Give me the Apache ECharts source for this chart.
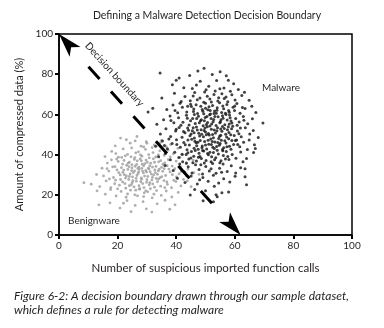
<!DOCTYPE html>
<html>
<head>
<meta charset="utf-8">
<script src="https://cdn.jsdelivr.net/npm/echarts@6/dist/echarts.min.js"></script>
<style>
  html, body { margin: 0; padding: 0; background: #fff; }
  #chart { width: 384px; height: 328px; }
</style>
</head>
<body>
<div id="chart"></div>
<script>
// Axis ticks
const xTicks = [0, 20, 40, 60, 80, 100];
const yTicks = [0, 20, 40, 60, 80, 100];

// Malware samples: [suspicious imported function calls, compressed data %]
const malware = [
  [49.5,83.0],[57.1,79.2],[47.4,81.6],[34.5,80.6],[41.0,78.1],[40.0,77.0],[52.3,79.8],[55.0,81.2],[44.6,79.4],
  [42.6,73.2],[48.2,76.5],[51.1,74.0],[53.8,76.9],[56.3,73.1],[59.6,75.2],[61.2,72.4],[45.5,72.9],[38.7,74.8],[50.2,72.3],[54.9,72.8],[57.8,77.0],[46.9,74.6],
  [35.1,68.2],[39.4,70.5],[43.0,68.9],[44.8,66.8],[46.3,70.9],[48.1,68.1],[49.7,71.2],[51.5,67.6],[52.9,69.9],[54.2,66.7],[55.6,70.3],[57.0,68.6],[58.5,71.5],[60.1,67.2],[62.4,69.4],[64.9,67.0],[47.2,67.3],[50.6,69.0],[53.3,71.6],[56.4,67.9],[41.7,66.4],[59.0,69.8],[45.8,69.2],[63.3,71.0],
  [30.4,61.2],[32.0,63.1],[36.8,62.4],[38.9,64.7],[40.5,60.8],[42.1,63.5],[43.6,61.2],[44.9,65.1],[46.0,62.7],[47.3,60.4],[48.4,64.0],[49.1,61.6],[50.0,65.5],[50.8,62.3],[51.7,60.2],[52.4,64.4],[53.1,61.7],[54.0,63.3],[54.8,65.8],[55.5,60.9],[56.2,62.8],[57.3,64.9],[58.1,61.1],[59.4,63.6],[60.7,65.4],[61.8,60.6],[63.5,62.9],[65.8,64.1],[67.2,61.0],[45.2,63.9],[48.9,62.5],[51.2,63.8],[53.7,60.6],[55.9,64.2],[57.9,62.0],[41.3,65.6],[62.6,63.4],[39.6,61.9],
  [33.4,55.1],[35.7,57.4],[37.9,59.2],[39.2,55.8],[40.8,58.3],[42.3,56.1],[43.5,59.6],[44.4,54.7],[45.6,57.9],[46.5,55.5],[47.6,59.1],[48.3,56.8],[49.2,54.4],[49.9,58.4],[50.7,56.0],[51.4,59.8],[52.1,55.2],[52.8,57.5],[53.6,54.5],[54.3,58.8],[55.1,56.3],[55.8,59.3],[56.6,54.9],[57.4,57.2],[58.2,59.7],[59.0,55.7],[60.3,58.0],[61.5,56.2],[62.9,59.0],[64.4,55.3],[66.0,57.8],[69.6,55.7],[44.9,56.9],[47.0,58.0],[49.6,56.9],[51.9,57.9],[53.2,59.0],[54.9,55.8],[57.0,59.9],[58.7,56.7],[41.6,54.6],[46.2,59.9],[50.3,55.0],[56.0,58.1],[60.8,54.6],
  [34.6,50.2],[36.5,52.8],[38.1,49.0],[39.8,51.7],[41.0,53.5],[42.0,48.6],[43.0,50.9],[43.9,53.2],[44.7,49.4],[45.5,51.9],[46.2,48.3],[46.9,53.7],[47.7,50.6],[48.5,52.4],[49.3,48.9],[50.0,51.3],[50.6,53.9],[51.3,49.7],[52.0,52.6],[52.7,48.4],[53.4,50.8],[54.1,53.3],[54.8,49.1],[55.6,51.6],[56.4,53.0],[57.2,48.7],[58.0,51.0],[58.9,52.9],[59.8,49.5],[60.9,51.8],[62.2,48.9],[63.6,53.4],[65.1,50.3],[66.3,52.0],[68.0,48.5],[45.1,50.3],[48.0,49.2],[51.0,50.5],[53.9,51.9],[56.9,50.1],[47.2,52.2],[49.8,53.2],[52.4,50.0],[55.2,52.7],[44.2,52.1],[57.8,53.8],[61.4,50.4],
  [33.0,44.2],[35.3,46.8],[37.0,42.9],[38.6,45.5],[40.1,47.4],[41.4,43.6],[42.6,46.0],[43.7,42.4],[44.5,44.8],[45.3,47.6],[46.1,43.1],[46.8,45.9],[47.5,42.6],[48.2,47.0],[48.9,44.3],[49.7,46.5],[50.4,42.8],[51.1,45.2],[51.8,47.8],[52.5,43.7],[53.2,46.3],[54.0,42.2],[54.7,44.6],[55.4,47.2],[56.2,43.4],[57.0,45.8],[57.9,47.9],[58.7,42.7],[59.6,45.0],[60.6,47.3],[61.7,43.9],[63.0,46.1],[64.3,42.5],[66.7,44.9],[46.4,46.7],[49.0,42.1],[52.0,45.0],[55.0,45.5],[50.9,47.1],[53.8,44.0],[47.0,44.4],[58.2,44.2],[43.1,44.9],
  [34.0,38.9],[36.3,40.6],[38.0,37.4],[39.5,41.2],[40.9,38.6],[42.2,36.5],[43.4,40.0],[44.3,37.8],[45.2,41.5],[46.0,39.2],[46.9,36.8],[47.8,40.7],[48.6,38.0],[49.4,41.8],[50.2,37.1],[51.0,39.9],[51.9,36.4],[52.7,41.0],[53.5,38.4],[54.4,40.3],[55.3,36.9],[56.1,39.5],[57.1,41.6],[58.0,37.6],[59.1,40.1],[60.4,38.2],[62.0,41.3],[64.0,38.1],[48.1,39.0],[50.7,40.5],[53.1,37.5],[55.9,41.9],[45.0,38.3],[57.6,39.0],
  [36.2,34.6],[39.0,32.1],[41.2,35.3],[42.8,31.4],[44.1,33.9],[45.4,30.8],[46.6,35.0],[47.8,32.6],[49.0,30.3],[50.1,34.1],[51.3,31.9],[52.4,35.6],[53.6,30.7],[54.8,33.2],[56.0,35.3],[57.4,31.6],[58.8,34.4],[60.3,30.9],[62.0,33.5],[48.4,34.9],[51.9,33.0],[55.5,31.2],[43.5,35.8],[63.5,33.0],
  [40.4,28.2],[43.0,26.1],[45.1,29.4],[47.2,25.4],[49.1,28.6],[50.9,26.7],[52.7,29.7],[54.5,25.9],[56.2,28.0],[58.3,26.4],[60.1,29.2],[53.0,24.3],[48.0,27.5],[63.5,29.0],[64.0,25.0],
  [46.3,22.6],[50.0,22.0],[53.6,20.0],[55.6,21.0],[57.9,21.4],[52.7,16.6],[49.2,17.1],[44.8,19.9],[54.0,19.0],
  [43.8,58.1],[45.9,61.4],[47.9,55.9],[49.4,60.3],[50.5,58.9],[51.6,61.9],[52.6,56.3],[53.9,62.1],[55.3,57.4],[56.8,60.6],[58.4,58.3],[59.9,61.9],
  [44.0,47.3],[45.8,53.3],[47.4,46.1],[48.7,50.1],[49.5,52.0],[50.3,49.9],[51.5,54.2],[52.3,46.5],[53.0,52.2],[54.5,48.0],[55.8,54.0],[56.6,46.9],[57.5,52.4],[58.6,49.9],[59.3,54.1],[60.2,47.0],[42.5,51.5],
  [44.0,40.9],[46.5,42.0],[48.8,43.4],[50.0,44.8],[51.5,41.2],[53.0,43.0],[54.2,46.0],[55.8,42.5],[57.3,43.9],[59.0,47.0],[61.0,45.0],[45.7,36.0],[47.6,38.7],[49.6,35.8],[52.1,38.9],[54.9,35.9],[56.8,37.8],
  [43.9,64.1],[46.8,64.8],[49.4,66.1],[52.0,66.2],[54.5,68.3],[57.6,66.3],[60.0,64.2],[38.2,57.0],[40.2,45.0],[37.5,47.8],[36.0,44.5],[61.9,53.2],[63.1,57.1],[64.9,47.3],[66.4,41.0],[62.8,36.5],[42.0,40.2],[40.0,52.6],[48.6,57.4],[55.2,49.6],[58.1,55.2],[46.1,50.9],[52.9,60.5],[50.0,63.0],[67.0,43.0]
];

// Benignware samples: [suspicious imported function calls, compressed data %]
const benignware = [
  [21.0,48.2],[26.6,49.0],[19.2,44.3],[24.3,45.7],[29.8,46.4],[32.5,44.8],[35.0,47.1],[28.0,44.2],[38.1,45.0],[23.0,47.4],
  [15.7,39.0],[18.0,41.6],[20.3,38.7],[21.9,42.8],[23.4,40.1],[24.8,43.3],[25.9,38.5],[27.1,41.4],[28.3,39.2],[29.5,42.6],[30.6,40.0],[31.8,43.5],[33.0,38.8],[34.4,41.9],[35.9,39.6],[37.2,42.2],[39.0,40.4],[41.3,38.6],[26.2,40.9],[22.6,39.4],[32.1,41.0],[19.4,40.5],[36.6,43.9],[28.9,43.8],
  [14.7,33.2],[16.5,35.8],[17.9,37.4],[19.1,34.0],[20.2,36.6],[21.3,33.5],[22.2,37.1],[23.1,34.7],[24.0,36.2],[24.9,33.4],[25.7,37.6],[26.5,35.1],[27.3,33.8],[28.1,36.9],[28.9,34.4],[29.7,37.3],[30.5,33.2],[31.3,35.7],[32.2,37.9],[33.1,34.1],[34.0,36.4],[35.0,33.6],[36.1,35.9],[37.3,37.5],[38.6,34.3],[40.0,36.8],[41.6,33.9],[43.4,35.4],[45.8,37.2],[23.6,35.8],[26.0,34.2],[29.3,35.5],[31.9,33.8],[34.7,37.0],[27.7,37.8],[21.7,35.3],[18.3,33.9],[36.9,34.5],
  [12.8,30.1],[15.2,29.4],[17.0,31.8],[18.6,28.6],[19.8,32.4],[20.9,29.9],[21.8,31.2],[22.7,28.3],[23.5,32.6],[24.3,30.4],[25.1,28.9],[25.8,31.9],[26.6,29.6],[27.4,32.8],[28.1,28.4],[28.8,30.9],[29.6,32.1],[30.3,29.1],[31.1,31.5],[31.9,28.7],[32.7,32.4],[33.6,30.2],[34.5,28.5],[35.4,31.7],[36.4,29.6],[37.5,32.8],[38.7,30.0],[40.1,28.9],[41.7,31.6],[43.5,29.4],[46.0,31.0],[47.8,30.2],[22.3,30.0],[24.8,32.0],[27.0,30.6],[29.2,29.3],[31.5,30.3],[33.9,31.9],[26.3,28.2],[30.7,32.9],[35.9,33.0],[20.4,31.0],[28.5,31.8],[24.0,29.1],[32.3,29.9],
  [11.0,25.3],[8.5,26.0],[13.9,24.1],[16.1,26.9],[17.7,23.6],[19.3,27.3],[20.6,24.8],[21.7,26.4],[22.8,23.3],[23.8,27.6],[24.7,25.0],[25.6,23.9],[26.4,26.8],[27.3,24.5],[28.2,27.7],[29.0,23.6],[29.9,26.2],[30.8,24.9],[31.7,27.4],[32.6,23.8],[33.6,26.5],[34.7,24.3],[35.8,27.1],[37.0,25.2],[38.4,23.5],[39.9,26.6],[41.6,24.4],[43.8,26.9],[45.1,24.0],[25.2,27.0],[28.6,25.6],[31.0,26.0],[22.5,25.6],[34.0,27.8],[27.6,23.0],[19.0,25.5],
  [13.0,22.0],[15.8,20.3],[17.6,22.6],[19.5,19.4],[21.2,21.7],[22.9,18.8],[24.4,22.3],[25.9,20.0],[27.4,22.8],[28.9,19.1],[30.3,21.5],[31.8,18.5],[33.3,22.1],[34.9,19.7],[36.6,21.9],[38.5,18.9],[40.7,21.2],[26.8,19.5],[29.6,22.0],[23.4,20.4],[32.4,20.3],[20.0,22.9],
  [13.6,15.0],[17.4,16.0],[20.8,13.4],[23.2,17.1],[26.0,14.7],[28.7,16.6],[31.7,11.4],[33.5,15.5],[36.2,17.3],[39.6,15.0],[29.8,13.0],[24.6,11.6],[37.8,12.8],[22.0,15.8],
  [22.1,32.3],[23.9,34.0],[25.4,31.0],[26.9,33.1],[28.4,35.2],[29.9,31.3],[31.0,34.4],[32.6,36.2],[34.2,32.7],[35.5,35.2],[24.6,38.9],[27.8,39.9],[30.8,38.4],[33.9,39.9],
  [21.0,27.6],[23.0,29.4],[25.0,26.1],[27.9,26.5],[30.0,27.5],[32.0,25.4],[33.2,28.1],[35.1,29.0],[36.8,26.4],[26.2,22.3],[29.1,21.0],[31.2,23.0],[24.0,24.5],[37.9,31.4],[39.5,33.0],[42.5,27.6],
  [19.7,37.8],[17.2,27.9],[16.4,33.0],[38.0,38.9],[44.0,32.8],[42.2,39.9],[40.6,43.1],[30.0,45.6],[34.6,46.0],[26.0,46.8],[36.1,23.6],[28.3,33.1],[26.7,36.9],[24.9,35.0],[30.1,36.2],[32.9,31.0],[27.2,31.5],[21.4,38.6],[39.2,27.2],[41.0,30.4]
];

// Decision boundary endpoints (x, y) in data units
const boundaryStart = [0, 100];
const boundaryEnd = [62, 0];

const FONT = 'Lato, "Open Sans", sans-serif';
const INK = '#231f20';

// Dash pattern for the boundary: a clear run after the start arrowhead,
// six evenly spaced dashes, then clear again up to the end arrowhead.
const boundaryDash = [0, 44, 16.5, 17, 16.5, 17, 16.5, 17, 16.5, 17, 16.5, 17, 16.5, 120];

const chart = echarts.init(document.getElementById('chart'), null, { renderer: 'canvas' });

const axisCommon = {
  type: 'value',
  min: 0,
  max: 100,
  interval: 20,
  splitLine: { show: false },
  axisLine: { show: true, lineStyle: { color: '#000', width: 1.5 } },
  axisTick: { show: true, inside: false, length: 4, lineStyle: { color: '#000', width: 2 } },
  axisLabel: { color: INK, fontSize: 10, fontFamily: FONT },
  nameLocation: 'middle',
  nameTextStyle: { color: INK, fontSize: 11.5, fontFamily: FONT }
};

chart.setOption({
  animation: false,
  backgroundColor: '#fff',
  grid: {
    left: 59, right: 32, top: 34, bottom: 93,
    show: true, borderColor: '#000', borderWidth: 1.5, backgroundColor: 'transparent'
  },
  xAxis: Object.assign({}, axisCommon, {
    name: 'Number of suspicious imported function calls',
    nameGap: 27,
    axisLabel: Object.assign({}, axisCommon.axisLabel, { margin: 6, customValues: xTicks })
  }),
  yAxis: Object.assign({}, axisCommon, {
    name: 'Amount of compressed data (%)',
    nameGap: 34,
    nameTextStyle: { color: INK, fontSize: 11, fontFamily: FONT },
    axisLabel: Object.assign({}, axisCommon.axisLabel, { margin: 6, customValues: yTicks })
  }),
  series: [
    {
      name: 'Benignware',
      type: 'scatter',
      data: benignware,
      symbol: 'circle',
      symbolSize: 2.8,
      itemStyle: { color: '#9a9a9a' },
      silent: true
    },
    {
      name: 'Malware',
      type: 'scatter',
      data: malware,
      symbol: 'circle',
      symbolSize: 3,
      itemStyle: { color: '#111' },
      silent: true
    },
    {
      name: 'Decision boundary',
      type: 'scatter',
      data: [],
      silent: true,
      markLine: {
        silent: true,
        animation: false,
        symbol: ['arrow', 'arrow'],
        symbolSize: [11, 24],
        lineStyle: { color: '#000', width: 3, type: boundaryDash, cap: 'butt' },
        itemStyle: { color: '#000' },
        label: {
          show: true,
          position: 'insideStartTop',
          distance: [26, 9],
          formatter: 'Decision boundary',
          color: INK,
          fontSize: 10,
          fontFamily: FONT
        },
        emphasis: { disabled: true },
        data: [[{ coord: boundaryStart }, { coord: boundaryEnd }]]
      }
    }
  ],
  graphic: [
    {
      type: 'text', x: 207, y: 10,
      style: { text: 'Defining a Malware Detection Decision Boundary', fill: INK, font: '10.5px ' + FONT, textAlign: 'center' }
    },
    {
      type: 'text', left: 262, top: 83,
      style: { text: 'Malware', fill: INK, font: '10px ' + FONT }
    },
    {
      type: 'text', left: 68, top: 216,
      style: { text: 'Benignware', fill: INK, font: '10px ' + FONT }
    },
    {
      type: 'text', left: 14, top: 290,
      style: { text: 'Figure 6-2: A decision boundary drawn through our sample dataset,', fill: INK, font: 'italic 12px ' + FONT }
    },
    {
      type: 'text', left: 14, top: 304,
      style: { text: 'which defines a rule for detecting malware', fill: INK, font: 'italic 12px ' + FONT }
    }
  ]
});
</script>
</body>
</html>
